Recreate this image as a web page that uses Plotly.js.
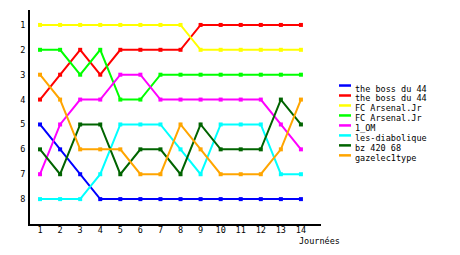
<!DOCTYPE html>
<html><head><meta charset="utf-8">
<script src="https://cdn.plot.ly/plotly-3.0.1.min.js"></script>
<style>html,body{margin:0;padding:0;background:#fff}#chart{width:460px;height:255px}</style>
</head><body><div id="chart"></div>
<script>
// ---- data ----
const rounds = [1,2,3,4,5,6,7,8,9,10,11,12,13,14];
const rankTicks = [1,2,3,4,5,6,7,8];
const xTitle = "Journées";
const teamNames = ["the boss du 44","the boss du 44","FC Arsenal.Jr","FC Arsenal.Jr","1_OM","les-diabolique","bz 420 68","gazelec1type"];
const rankBossBlue   = [5,6,7,8,8,8,8,8,8,8,8,8,8,8];
const rankBossRed    = [4,3,2,3,2,2,2,2,1,1,1,1,1,1];
const rankArsenalYel = [1,1,1,1,1,1,1,1,2,2,2,2,2,2];
const rankArsenalGrn = [2,2,3,2,4,4,3,3,3,3,3,3,3,3];
const rankOM         = [7,5,4,4,3,3,4,4,4,4,4,4,5,6];
const rankDiabolique = [8,8,8,7,5,5,5,6,7,5,5,5,7,7];
const rankBz42068    = [6,7,5,5,7,6,6,7,5,6,6,6,4,5];
const rankGazelec    = [3,4,6,6,6,7,7,5,6,7,7,7,6,4];
const teamRanks = [rankBossBlue,rankBossRed,rankArsenalYel,rankArsenalGrn,rankOM,rankDiabolique,rankBz42068,rankGazelec];

// ---- styles ----
const teamColors = ["#0000ff","#ff0000","#ffff00","#00ff00","#ff00ff","#00ffff","#006400","#ffa500"];
const FONT = {family:"DejaVu Sans Mono, monospace", size:8.5, color:"#000"};

// plot area in pixels (for custom legend placement)
const W=460,H=255, L=30, R=321, T=10, B=224.5;
const px2x = p => (p-L)/(R-L);
const px2y = p => (B-p)/(B-T);

const traces = teamNames.map((n,i)=>({
  x: rounds, y: teamRanks[i], name: n, type:"scatter", mode:"lines+markers",
  line:{color:teamColors[i], width:2},
  marker:{color:teamColors[i], size:4, symbol:"square"},
  showlegend:false, hoverinfo:"x+y+name"
}));

const shapes=[], annotations=[];
teamNames.forEach((n,i)=>{
  const yl = 85.7 + 10*i;
  shapes.push({type:"line", xref:"paper", yref:"paper", x0:px2x(339), x1:px2x(351), y0:px2y(yl), y1:px2y(yl), line:{color:teamColors[i], width:2.5}});
  annotations.push({xref:"paper", yref:"paper", x:px2x(354), y:px2y(yl+3), xanchor:"left", yanchor:"middle", text:n, showarrow:false, font:FONT, borderpad:0});
});
annotations.push({xref:"paper", yref:"paper", x:px2x(319), y:px2y(242), xanchor:"center", yanchor:"middle", text:xTitle, showarrow:false, font:FONT, borderpad:0});

const layout = {
  width:W, height:H, margin:{l:L, r:W-R, t:T, b:H-B},
  paper_bgcolor:"#fff", plot_bgcolor:"#fff", font:FONT, showlegend:false,
  xaxis:{range:[0.5,15], tickvals:rounds, showgrid:false, zeroline:false, showline:true, linecolor:"#000", linewidth:2, ticks:"", ticklabelstandoff:-3, tickfont:FONT, fixedrange:true},
  yaxis:{range:[9,0.4], tickvals:rankTicks, showgrid:false, zeroline:false, showline:true, linecolor:"#000", linewidth:2, ticks:"", ticklabelstandoff:1, tickfont:FONT, fixedrange:true},
  shapes, annotations
};
Plotly.newPlot("chart", traces, layout, {staticPlot:true, displayModeBar:false});
</script></body></html>
